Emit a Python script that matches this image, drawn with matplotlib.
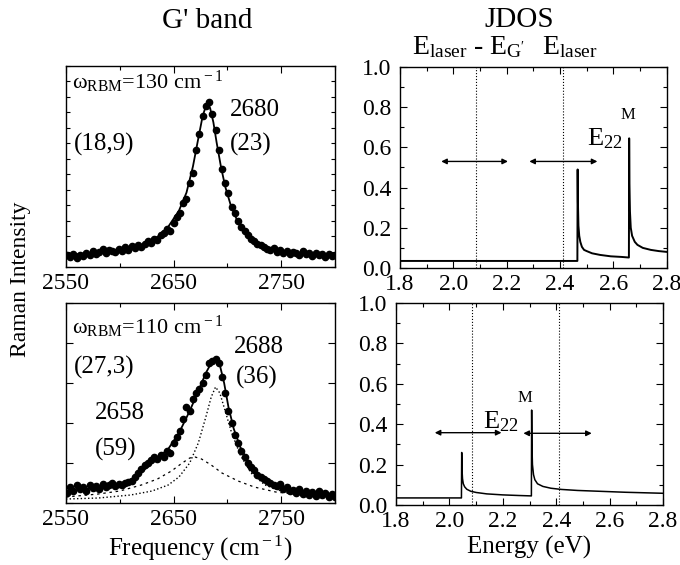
import numpy as np
import matplotlib
matplotlib.use("Agg")
import matplotlib.pyplot as plt
from matplotlib.ticker import MultipleLocator, NullFormatter, FormatStrFormatter

plt.rcParams['font.family'] = ['Liberation Serif', 'DejaVu Serif']
plt.rcParams['mathtext.fontset'] = 'custom'
plt.rcParams['mathtext.rm'] = 'Liberation Serif'
plt.rcParams['mathtext.it'] = 'Liberation Serif:italic'
plt.rcParams['font.size'] = 17

# ---- G' band, omega_RBM = 130 cm-1 ----
freq = [2551, 2554, 2557, 2560, 2563, 2566, 2569, 2572, 2575, 2578,
        2581, 2584, 2587, 2590, 2593, 2596, 2599, 2602, 2605, 2608,
        2611, 2614, 2617, 2620, 2623, 2626, 2629, 2632, 2635, 2638,
        2641, 2644, 2647, 2650, 2653, 2656, 2659, 2662, 2665, 2668,
        2671, 2674, 2677, 2680, 2683, 2686, 2689, 2692, 2695, 2698,
        2701, 2704, 2707, 2710, 2713, 2716, 2719, 2722, 2725, 2728,
        2731, 2734, 2737, 2740, 2743, 2746, 2749, 2752, 2755, 2758,
        2761, 2764, 2767, 2770, 2773, 2776, 2779, 2782, 2785, 2788,
        2791, 2794, 2797, 2800]
int_130 = [0.06, 0.05, 0.065, 0.045, 0.06, 0.055, 0.07, 0.06, 0.08, 0.065,
           0.075, 0.09, 0.07, 0.085, 0.08, 0.075, 0.09, 0.08, 0.10, 0.085,
           0.105, 0.095, 0.11, 0.10, 0.115, 0.13, 0.12, 0.14, 0.135, 0.16,
           0.17, 0.19, 0.18, 0.22, 0.25, 0.27, 0.32, 0.34, 0.42, 0.47,
           0.58, 0.66, 0.75, 0.80, 0.82, 0.76, 0.68, 0.58, 0.49, 0.42,
           0.37, 0.30, 0.27, 0.23, 0.20, 0.18, 0.16, 0.14, 0.13, 0.115,
           0.11, 0.10, 0.09, 0.085, 0.095, 0.075, 0.085, 0.07, 0.08, 0.065,
           0.075, 0.07, 0.06, 0.08, 0.065, 0.07, 0.055, 0.07, 0.06, 0.065,
           0.05, 0.065, 0.055, 0.06]
fit_130_x = [2550, 2575, 2600, 2620, 2635, 2645, 2655, 2662, 2668, 2673,
             2677, 2680, 2682, 2684, 2687, 2690, 2694, 2698, 2703, 2710,
             2720, 2735, 2755, 2780, 2800]
fit_130_y = [0.06, 0.07, 0.085, 0.11, 0.15, 0.20, 0.28, 0.37, 0.50, 0.64,
             0.75, 0.80, 0.81, 0.79, 0.72, 0.62, 0.50, 0.40, 0.31, 0.22,
             0.15, 0.10, 0.075, 0.063, 0.057]

# ---- G' band, omega_RBM = 110 cm-1 ----
int_110 = [0.05, 0.08, 0.06, 0.09, 0.07, 0.08, 0.06, 0.09, 0.075, 0.085,
           0.07, 0.095, 0.08, 0.09, 0.10, 0.085, 0.095, 0.09, 0.10, 0.105,
           0.11, 0.13, 0.15, 0.17, 0.19, 0.20, 0.215, 0.23, 0.22, 0.24,
           0.23, 0.26, 0.25, 0.30, 0.33, 0.36, 0.42, 0.48, 0.46, 0.52,
           0.55, 0.57, 0.60, 0.64, 0.70, 0.71, 0.72, 0.70, 0.63, 0.55,
           0.46, 0.40, 0.34, 0.30, 0.26, 0.23, 0.20, 0.18, 0.165, 0.14,
           0.13, 0.12, 0.11, 0.10, 0.09, 0.085, 0.095, 0.07, 0.08, 0.06,
           0.065, 0.05, 0.07, 0.045, 0.06, 0.04, 0.055, 0.035, 0.06, 0.04,
           0.05, 0.03, 0.045, 0.03]
fit_110_x = [2550, 2580, 2600, 2615, 2630, 2645, 2655, 2665, 2673, 2680,
             2685, 2689, 2693, 2697, 2701, 2706, 2712, 2720, 2730, 2745,
             2765, 2785, 2800]
fit_110_y = [0.06, 0.075, 0.095, 0.13, 0.20, 0.27, 0.35, 0.46, 0.56, 0.65,
             0.70, 0.715, 0.69, 0.60, 0.48, 0.37, 0.28, 0.20, 0.14, 0.09,
             0.06, 0.045, 0.04]
comp_2688_x = [2550, 2580, 2610, 2630, 2645, 2655, 2665, 2673, 2680, 2685,
               2689, 2693, 2698, 2704, 2712, 2722, 2735, 2750, 2770, 2800]
comp_2688_y = [0.02, 0.025, 0.04, 0.06, 0.09, 0.13, 0.20, 0.30, 0.43, 0.53,
               0.58, 0.55, 0.46, 0.35, 0.24, 0.15, 0.09, 0.06, 0.04, 0.025]
comp_2658_x = [2550, 2580, 2600, 2620, 2635, 2648, 2658, 2665, 2670, 2676,
               2685, 2695, 2710, 2725, 2745, 2770, 2800]
comp_2658_y = [0.03, 0.045, 0.06, 0.09, 0.12, 0.16, 0.20, 0.225, 0.23, 0.22,
               0.19, 0.15, 0.11, 0.08, 0.055, 0.04, 0.03]

# ---- JDOS ----
e_top = [1.80, 2.465, 2.466, 2.467, 2.469, 2.472, 2.476, 2.482, 2.49, 2.50,
         2.52, 2.55, 2.59, 2.63, 2.658, 2.659, 2.660, 2.662, 2.665, 2.67,
         2.68, 2.69, 2.71, 2.74, 2.77, 2.80]
jdos_top = [0.035, 0.035, 0.49, 0.33, 0.21, 0.16, 0.13, 0.105, 0.09, 0.084,
            0.073, 0.065, 0.058, 0.055, 0.052, 0.645, 0.42, 0.28, 0.20, 0.16,
            0.13, 0.115, 0.10, 0.09, 0.084, 0.08]
e_bot = [1.80, 2.045, 2.046, 2.047, 2.049, 2.052, 2.057, 2.065, 2.08, 2.10,
         2.14, 2.20, 2.26, 2.307, 2.308, 2.309, 2.311, 2.315, 2.32, 2.33,
         2.35, 2.38, 2.42, 2.48, 2.56, 2.66, 2.80]
jdos_bot = [0.035, 0.035, 0.26, 0.18, 0.13, 0.105, 0.09, 0.078, 0.068, 0.062,
            0.055, 0.05, 0.047, 0.045, 0.47, 0.30, 0.20, 0.15, 0.125, 0.105,
            0.092, 0.083, 0.077, 0.072, 0.068, 0.063, 0.058]
e_laser_minus_g = [2.085, 2.085]
e_laser = [2.41, 2.41]
arrows_top = [(1.955, 2.205, 0.53), (2.285, 2.54, 0.53)]
arrows_bot = [(1.945, 2.195, 0.358), (2.277, 2.533, 0.355)]

fig = plt.figure(figsize=(6.8, 5.65), dpi=100)
ax_tl = fig.add_axes([0.097, 0.5274, 0.3956, 0.3558])
ax_bl = fig.add_axes([0.097, 0.1097, 0.3956, 0.354])
ax_tr = fig.add_axes([0.588, 0.5257, 0.3926, 0.3558])
ax_br = fig.add_axes([0.5824, 0.1062, 0.3926, 0.3575])

for ax in (ax_tl, ax_bl, ax_tr, ax_br):
    ax.tick_params(which='both', direction='in', top=True, right=True, width=0.8)
    ax.tick_params(which='major', length=5, labelsize=17)
    ax.tick_params(axis='x', which='major', pad=4)
    ax.tick_params(axis='y', which='major', pad=6)
    ax.tick_params(which='minor', length=3)
    for s in ax.spines.values():
        s.set_linewidth(1.0)

# left panels
for ax in (ax_tl, ax_bl):
    ax.set_xlim(2550, 2800)
    ax.set_ylim(0, 1)
    ax.set_xticks([2550, 2650, 2750])
    ax.xaxis.set_minor_locator(MultipleLocator(50))
    ax.yaxis.set_major_formatter(NullFormatter())
ax_tl.yaxis.set_major_locator(MultipleLocator(1 / 13))
ax_bl.yaxis.set_major_locator(MultipleLocator(0.2))
ax_tl.tick_params(axis='y', which='major', length=3)

ax_tl.plot(freq, int_130, 'o', color='black', ms=4.5)
ax_tl.plot(fit_130_x, fit_130_y, '-', color='black', lw=1.3)
ax_bl.plot(freq, int_110, 'o', color='black', ms=4.5)
ax_bl.plot(fit_110_x, fit_110_y, '-', color='black', lw=1.3)
ax_bl.plot(comp_2688_x, comp_2688_y, ':', color='black', lw=1.0)
ax_bl.plot(comp_2658_x, comp_2658_y, linestyle=(0, (2, 3)), color='black', lw=0.9)

ax_tl.text(2556, 0.92, 'ω$_{\\rm RBM}$=130 cm$^{\\rm -1}$', fontsize=16, va='center')
ax_tl.text(2702, 0.78, '2680', fontsize=18, va='center')
ax_tl.text(2702, 0.61, '(23)', fontsize=18, va='center')
ax_tl.text(2557, 0.61, '(18,9)', fontsize=18, va='center')

ax_bl.text(2556, 0.88, 'ω$_{\\rm RBM}$=110 cm$^{\\rm -1}$', fontsize=16, va='center')
ax_bl.text(2706, 0.78, '2688', fontsize=18, va='center')
ax_bl.text(2708, 0.63, '(36)', fontsize=18, va='center')
ax_bl.text(2557, 0.68, '(27,3)', fontsize=18, va='center')
ax_bl.text(2577, 0.45, '2658', fontsize=18, va='center')
ax_bl.text(2577, 0.27, '(59)', fontsize=18, va='center')

ax_bl.set_xlabel('Frequency (cm$^{\\rm -1}$)', fontsize=18, labelpad=3)
fig.text(0.03, 0.505, 'Raman Intensity', rotation=90, fontsize=17, ha='center', va='center')
fig.text(0.305, 0.962, "G' band", fontsize=21, ha='center', va='center')

# right panels
for ax, e, j, arrs in ((ax_tr, e_top, jdos_top, arrows_top), (ax_br, e_bot, jdos_bot, arrows_bot)):
    ax.set_xlim(1.8, 2.8)
    ax.set_ylim(0, 1)
    ax.xaxis.set_major_locator(MultipleLocator(0.2))
    ax.xaxis.set_minor_locator(MultipleLocator(0.1))
    ax.yaxis.set_major_locator(MultipleLocator(0.2))
    ax.yaxis.set_minor_locator(MultipleLocator(0.1))
    ax.xaxis.set_major_formatter(FormatStrFormatter('%.1f'))
    ax.yaxis.set_major_formatter(FormatStrFormatter('%.1f'))
    ax.plot(e, j, '-', color='black', lw=1.4 if ax is ax_tr else 1.1)
    ax.plot(e_laser_minus_g, [0, 1], ':', color='black', lw=0.8)
    ax.plot(e_laser, [0, 1], ':', color='black', lw=0.8)
    for x0, x1, y in arrs:
        ax.annotate('', xy=(x1, y), xytext=(x0, y),
                    arrowprops=dict(arrowstyle='<|-|>', color='black', lw=1.0,
                                    mutation_scale=8, shrinkA=0, shrinkB=0))

# E22 with the M placed well to the right, as in the figure
ax_tr.text(2.50, 0.61, r'E$_{\rm 22}$', fontsize=19, va='baseline')
ax_tr.text(2.625, 0.74, 'M', fontsize=12, va='baseline')
ax_br.text(2.125, 0.38, r'E$_{\rm 22}$', fontsize=19, va='baseline')
ax_br.text(2.255, 0.51, 'M', fontsize=12, va='baseline')

ax_br.set_xlabel('Energy (eV)', fontsize=18, labelpad=3)
fig.text(412 / 680, 1 - 54 / 565, r"E$_{\rm laser}$ - E$_{\rm G'}$", fontsize=20, ha='left', va='baseline')
fig.text(542 / 680, 1 - 54 / 565, r'E$_{\rm laser}$', fontsize=20, ha='left', va='baseline')
fig.text(519 / 680, 0.965, 'JDOS', fontsize=21, ha='center', va='center')

fig.savefig('out.png', dpi=100)
